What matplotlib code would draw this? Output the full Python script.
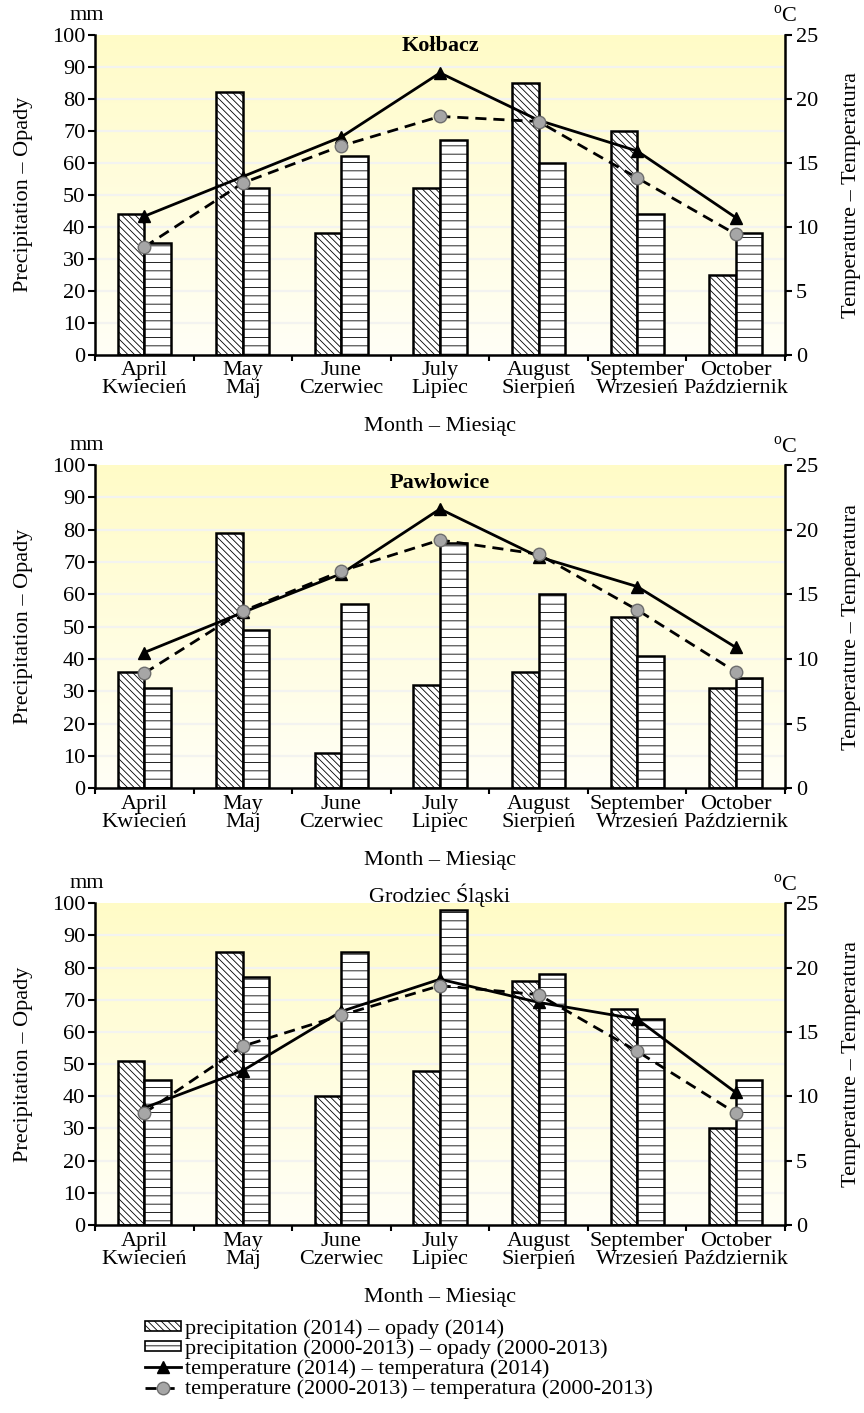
import numpy as np
import matplotlib
matplotlib.use('Agg')
import matplotlib.pyplot as plt
from matplotlib.lines import Line2D
from matplotlib.patches import Patch

plt.rcParams['font.family'] = ['Liberation Serif', 'DejaVu Serif']
plt.rcParams['mathtext.fontset'] = 'custom'
plt.rcParams['mathtext.rm'] = 'Liberation Serif'
plt.rcParams['font.size'] = 16
plt.rcParams['hatch.linewidth'] = 0.6

# data
months_en = ['April', 'May', 'June', 'July', 'August', 'September', 'October']
months_pl = ['Kwiecień', 'Maj', 'Czerwiec', 'Lipiec', 'Sierpień', 'Wrzesień', 'Październik']

kolbacz_p2014 = [44, 82, 38, 52, 85, 70, 25]
kolbacz_p0013 = [35, 52, 62, 67, 60, 44, 38]
kolbacz_t2014 = [10.8, 13.9, 17.0, 22.0, 18.3, 15.9, 10.7]
kolbacz_t0013 = [8.4, 13.4, 16.3, 18.6, 18.2, 13.8, 9.4]

pawlowice_p2014 = [36, 79, 11, 32, 36, 53, 31]
pawlowice_p0013 = [31, 49, 57, 76, 60, 41, 34]
pawlowice_t2014 = [10.5, 13.6, 16.6, 21.6, 17.9, 15.6, 10.9]
pawlowice_t0013 = [8.9, 13.7, 16.8, 19.2, 18.1, 13.8, 9.0]

grodziec_p2014 = [51, 85, 40, 48, 76, 67, 30]
grodziec_p0013 = [45, 77, 85, 98, 78, 64, 45]
grodziec_t2014 = [9.1, 12.0, 16.6, 19.1, 17.3, 16.0, 10.3]
grodziec_t0013 = [8.7, 13.9, 16.3, 18.6, 17.9, 13.5, 8.7]

HATCH_2014 = '\\\\\\\\\\'
HATCH_0013 = '--'
BAR_W = 0.27
DASHES = (0, (4, 2.5))
CIRCLE = dict(marker='o', ms=9, mfc='#a6a6a6', mec='#6e6e6e', mew=1.0)


def plot_station(ax, title, p14, p0013, t14, t0013, bold=True, title_dy=-8):
    x = np.arange(len(months_en))

    # pale yellow gradient background, stronger at the top
    top = np.array([1.0, 0.985, 0.78])
    bot = np.array([1.0, 1.0, 0.965])
    grad = np.linspace(0, 1, 200)[:, None, None] * (bot - top) + top
    ax.imshow(grad, extent=[-0.5, 6.5, 0, 100], origin='upper', aspect='auto', zorder=0)
    for yv in range(10, 100, 10):
        ax.axhline(yv, color='#f3f3f0', lw=1.6, zorder=0.5)

    ax.bar(x - BAR_W / 2, p14, BAR_W, facecolor='white', edgecolor='black',
           hatch=HATCH_2014, lw=1.8, zorder=2)
    ax.bar(x + BAR_W / 2, p0013, BAR_W, facecolor='white', edgecolor='black',
           hatch=HATCH_0013, lw=1.8, zorder=2)

    ax.set_xlim(-0.5, 6.5)
    ax.set_ylim(0, 100)
    ax.set_yticks(range(0, 101, 10))
    ax.set_xticks(np.arange(-0.5, 7, 1))
    ax.set_xticklabels([])
    ax.set_xticks(x, minor=True)
    ax.set_xticklabels([e + '\n' + p for e, p in zip(months_en, months_pl)],
                       minor=True, linespacing=0.92)
    ax.tick_params(axis='x', which='major', length=4, width=1.5, direction='out')
    ax.tick_params(axis='x', which='minor', length=0, pad=5)
    ax.tick_params(axis='y', length=5, width=1.5, direction='out', pad=2)
    for s in ['left', 'bottom']:
        ax.spines[s].set_linewidth(1.8)
    ax.spines['top'].set_visible(False)
    ax.spines['right'].set_visible(False)
    ax.set_ylabel('Precipitation – Opady')
    ax.yaxis.set_label_coords(-0.09, 0.5)

    ax2 = ax.twinx()
    ax2.plot(x, t14, color='black', lw=2.0, marker='^', ms=9, zorder=3)
    ax2.plot(x, t0013, color='black', lw=2.0, ls=DASHES, zorder=3, **CIRCLE)
    ax2.set_ylim(0, 25)
    ax2.set_yticks(range(0, 26, 5))
    ax2.tick_params(axis='y', length=5, width=1.5, direction='out', pad=3)
    ax2.spines['right'].set_linewidth(1.8)
    ax2.spines['top'].set_visible(False)
    ax2.spines['left'].set_visible(False)
    ax2.spines['bottom'].set_visible(False)
    ax2.set_ylabel('Temperature – Temperatura')
    ax2.yaxis.set_label_coords(1.082, 0.5)

    ax.annotate('mm', xy=(0, 1), xycoords='axes fraction', xytext=(-6, 14),
                textcoords='offset points', ha='center', va='center')
    ax.annotate(r'$^{\rm o}$C', xy=(1, 1), xycoords='axes fraction', xytext=(0, 13),
                textcoords='offset points', ha='center', va='center')
    ax.annotate(title, xy=(0.5, 1), xycoords='axes fraction', xytext=(0, title_dy),
                textcoords='offset points', ha='center', va='center',
                fontweight='bold' if bold else 'normal')
    ax.annotate('Month – Miesiąc', xy=(0.5, 0), xycoords='axes fraction', xytext=(0, -52),
                textcoords='offset points', ha='center', va='center')


fig = plt.figure(figsize=(8.64, 14.13), dpi=100)
left, width = 95 / 864, 690 / 864
ax_k = fig.add_axes([left, 1 - 354.5 / 1413, width, 320 / 1413])
ax_p = fig.add_axes([left, 1 - 788.3 / 1413, width, 323.3 / 1413])
ax_g = fig.add_axes([left, 1 - 1225 / 1413, width, 321.7 / 1413])

plot_station(ax_k, 'Kołbacz', kolbacz_p2014, kolbacz_p0013, kolbacz_t2014, kolbacz_t0013,
             bold=True, title_dy=-8)
plot_station(ax_p, 'Pawłowice', pawlowice_p2014, pawlowice_p0013, pawlowice_t2014,
             pawlowice_t0013, bold=True, title_dy=-13)
plot_station(ax_g, 'Grodziec Śląski', grodziec_p2014, grodziec_p0013, grodziec_t2014,
             grodziec_t0013, bold=False, title_dy=6)

handles = [
    Patch(facecolor='white', edgecolor='black', hatch=HATCH_2014, lw=1.2),
    Patch(facecolor='white', edgecolor='black', hatch=HATCH_0013, lw=1.2),
    Line2D([], [], color='black', lw=2.0, marker='^', ms=8),
    Line2D([], [], color='black', lw=2.0, ls=DASHES, **CIRCLE),
]
labels = [
    'precipitation (2014) – opady (2014)',
    'precipitation (2000-2013) – opady (2000-2013)',
    'temperature (2014) – temperatura (2014)',
    'temperature (2000-2013) – temperatura (2000-2013)',
]
fig.legend(handles, labels, loc='upper left', bbox_to_anchor=(145 / 864, 1 - 1319 / 1413),
           frameon=False, borderpad=0, borderaxespad=0, handlelength=1.6,
           handleheight=0.35, handletextpad=0.2, labelspacing=0.02)

fig.savefig('out.png', dpi=100, facecolor='white')
